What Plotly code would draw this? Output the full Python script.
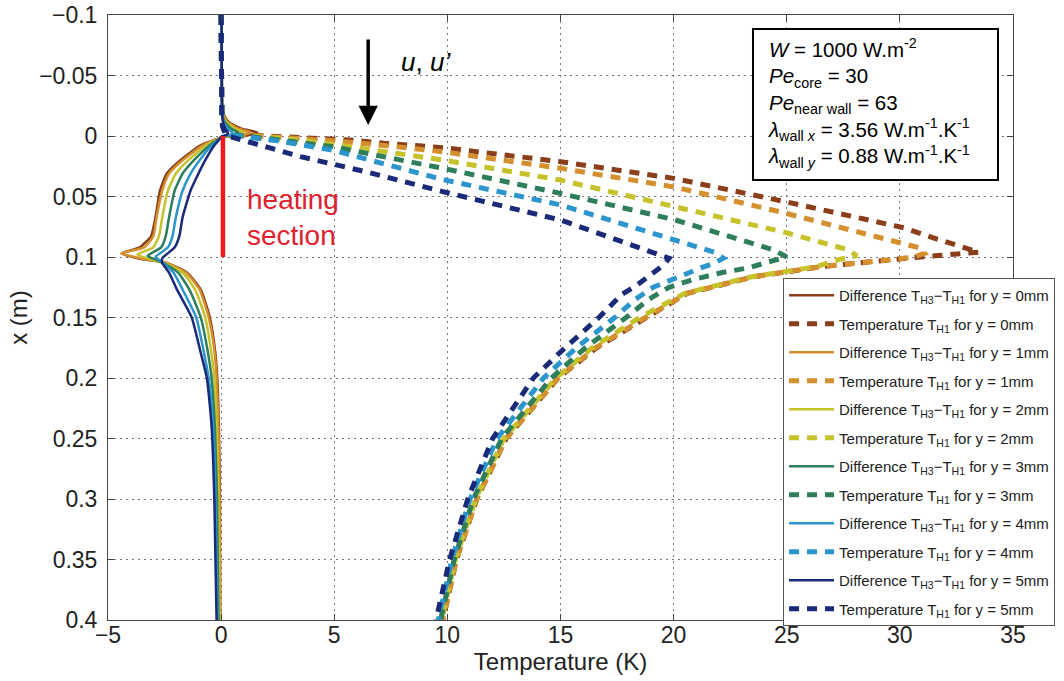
import plotly.graph_objects as go

# ---------------- data ----------------
Y_POSITIONS = ["0mm", "1mm", "2mm", "3mm", "4mm", "5mm"]
COLORS = ["#8B3E1A", "#D4902F", "#C6C22C", "#2E7D5B", "#2C96CC", "#1B2A78"]

# Difference T_H3 - T_H1 (solid)  x (m) / T (K)
X_DIFF_0 = [-0.1, -0.05, -0.02, -0.012, -0.006, -0.003, -0.001, 0.0005, 0.002, 0.0076, 0.02, 0.031, 0.045, 0.067, 0.083, 0.092, 0.097, 0.101, 0.105, 0.113, 0.127, 0.15, 0.177, 0.2, 0.24, 0.3, 0.4]
T_DIFF_0 = [0.02, 0.03, 0.08, 0.3, 0.9, 1.6, 1.3, 0.3, -0.1, -0.9, -1.8, -2.4, -2.7, -2.9, -3.1, -3.6, -4.4, -3.7, -2.4, -1.5, -0.9, -0.5, -0.27, -0.17, -0.1, -0.05, -0.04]
X_DIFF_1 = [-0.1, -0.05, -0.02, -0.012, -0.006, -0.003, -0.001, 0.0005, 0.002, 0.0076, 0.02, 0.031, 0.045, 0.067, 0.083, 0.092, 0.097, 0.101, 0.105, 0.113, 0.127, 0.15, 0.177, 0.2, 0.24, 0.3, 0.4]
T_DIFF_1 = [0.02, 0.03, 0.07, 0.25, 0.75, 1.3, 1.0, 0.2, -0.1, -0.8, -1.7, -2.3, -2.6, -2.85, -3.0, -3.4, -4.4, -3.6, -2.4, -1.55, -0.95, -0.55, -0.3, -0.2, -0.12, -0.07, -0.05]
X_DIFF_2 = [-0.1, -0.05, -0.02, -0.012, -0.006, -0.003, -0.001, 0.0005, 0.002, 0.0076, 0.02, 0.031, 0.045, 0.067, 0.083, 0.092, 0.098, 0.102, 0.106, 0.113, 0.127, 0.15, 0.177, 0.2, 0.24, 0.3, 0.4]
T_DIFF_2 = [0.02, 0.03, 0.06, 0.2, 0.6, 1.0, 0.8, 0.15, -0.08, -0.65, -1.45, -2.0, -2.35, -2.6, -2.75, -3.0, -3.7, -3.1, -2.4, -1.7, -1.15, -0.7, -0.45, -0.3, -0.2, -0.12, -0.08]
X_DIFF_3 = [-0.1, -0.05, -0.02, -0.012, -0.006, -0.003, -0.001, 0.0005, 0.002, 0.0076, 0.02, 0.031, 0.045, 0.067, 0.083, 0.092, 0.099, 0.102, 0.106, 0.113, 0.127, 0.15, 0.177, 0.2, 0.24, 0.3, 0.4]
T_DIFF_3 = [0.02, 0.03, 0.05, 0.15, 0.45, 0.75, 0.6, 0.1, -0.06, -0.5, -1.2, -1.7, -2.05, -2.3, -2.45, -2.65, -3.25, -2.9, -2.45, -1.9, -1.4, -0.9, -0.6, -0.42, -0.28, -0.18, -0.12]
X_DIFF_4 = [-0.1, -0.05, -0.02, -0.012, -0.006, -0.003, -0.001, 0.0005, 0.002, 0.0076, 0.02, 0.031, 0.045, 0.067, 0.083, 0.092, 0.1, 0.103, 0.106, 0.113, 0.127, 0.15, 0.177, 0.2, 0.24, 0.3, 0.4]
T_DIFF_4 = [0.02, 0.03, 0.04, 0.1, 0.3, 0.5, 0.4, 0.05, -0.05, -0.4, -0.95, -1.35, -1.7, -2.0, -2.15, -2.35, -2.9, -2.7, -2.5, -2.1, -1.7, -1.1, -0.78, -0.55, -0.35, -0.25, -0.16]
X_DIFF_5 = [-0.1, -0.05, -0.02, -0.012, -0.006, -0.003, -0.001, 0.0005, 0.002, 0.0076, 0.02, 0.031, 0.045, 0.067, 0.083, 0.092, 0.101, 0.105, 0.109, 0.113, 0.127, 0.15, 0.177, 0.2, 0.24, 0.3, 0.4]
T_DIFF_5 = [0.02, 0.03, 0.04, 0.08, 0.18, 0.3, 0.25, 0.0, -0.04, -0.3, -0.7, -1.0, -1.35, -1.7, -1.85, -2.05, -2.6, -2.6, -2.45, -2.3, -1.95, -1.3, -0.93, -0.63, -0.42, -0.3, -0.2]

# Temperature T_H1 (dashed)
X_TEMP_0 = [-0.1, -0.05, -0.02, -0.008, -0.003, -0.001, 0.0, 0.001, 0.0033, 0.006, 0.0096, 0.0212, 0.035, 0.0545, 0.076, 0.0855, 0.096, 0.1, 0.1025, 0.108, 0.1165, 0.13, 0.15, 0.175, 0.2, 0.25, 0.3, 0.35, 0.4]
T_TEMP_0 = [0.0, 0.0, 0.03, 0.1, 0.4, 1.0, 2.0, 3.5, 5.7, 7.2, 9.8, 15.0, 20.0, 25.0, 30.2, 31.7, 33.5, 30.9, 29.5, 26.5, 23.5, 20.6, 18.8, 16.6, 14.9, 12.6, 11.3, 10.4, 9.8]
X_TEMP_1 = [-0.1, -0.05, -0.02, -0.008, -0.003, -0.001, 0.0, 0.001, 0.004, 0.008, 0.013, 0.0267, 0.042, 0.0626, 0.0885, 0.0926, 0.097, 0.1, 0.1025, 0.108, 0.1165, 0.13, 0.15, 0.175, 0.2, 0.25, 0.3, 0.35, 0.4]
T_TEMP_1 = [0.0, 0.0, 0.03, 0.1, 0.35, 0.8, 1.7, 2.8, 5.0, 7.3, 9.8, 15.0, 20.0, 24.7, 30.0, 30.9, 31.1, 30.6, 29.5, 26.5, 23.5, 20.6, 18.75, 16.55, 14.9, 12.6, 11.3, 10.4, 9.8]
X_TEMP_2 = [-0.1, -0.05, -0.02, -0.008, -0.003, -0.001, 0.0, 0.002, 0.007, 0.0198, 0.0364, 0.058, 0.08, 0.094, 0.099, 0.102, 0.108, 0.1165, 0.13, 0.15, 0.175, 0.2, 0.25, 0.3, 0.35, 0.4]
T_TEMP_2 = [0.0, 0.0, 0.03, 0.1, 0.3, 0.6, 1.4, 2.8, 5.0, 9.8, 15.0, 20.0, 25.0, 27.7, 28.1, 27.3, 26.3, 23.4, 20.5, 18.5, 16.4, 14.8, 12.5, 11.25, 10.35, 9.75]
X_TEMP_3 = [-0.1, -0.05, -0.02, -0.008, -0.003, -0.001, 0.0, 0.003, 0.009, 0.0267, 0.0474, 0.069, 0.094, 0.1, 0.104, 0.109, 0.113, 0.119, 0.125, 0.135, 0.15, 0.175, 0.2, 0.25, 0.3, 0.35, 0.4]
T_TEMP_3 = [0.0, 0.0, 0.03, 0.08, 0.25, 0.5, 1.1, 2.5, 5.0, 9.8, 15.0, 20.0, 24.4, 25.0, 24.2, 23.3, 22.1, 20.8, 19.8, 18.9, 17.9, 16.1, 14.6, 12.4, 11.15, 10.3, 9.7]
X_TEMP_4 = [-0.1, -0.05, -0.02, -0.008, -0.003, -0.001, 0.0, 0.004, 0.012, 0.036, 0.057, 0.086, 0.096, 0.101, 0.105, 0.109, 0.117, 0.125, 0.135, 0.15, 0.175, 0.2, 0.25, 0.3, 0.35, 0.4]
T_TEMP_4 = [0.0, 0.0, 0.03, 0.07, 0.2, 0.35, 0.8, 2.5, 5.0, 9.8, 15.0, 20.0, 21.8, 22.2, 21.8, 21.2, 20.2, 19.1, 18.3, 17.4, 15.7, 14.25, 12.2, 11.0, 10.2, 9.6]
X_TEMP_5 = [-0.1, -0.05, -0.02, -0.008, -0.003, -0.001, 0.0, 0.006, 0.017, 0.03, 0.046, 0.0694, 0.085, 0.101, 0.106, 0.112, 0.123, 0.131, 0.15, 0.175, 0.2, 0.25, 0.3, 0.35, 0.4]
T_TEMP_5 = [0.0, 0.0, 0.03, 0.06, 0.15, 0.2, 0.3, 1.4, 3.5, 6.5, 9.8, 15.0, 17.4, 19.8, 19.6, 19.2, 18.4, 17.7, 16.7, 15.2, 13.8, 12.0, 10.9, 10.1, 9.5]

X_DIFF = [X_DIFF_0, X_DIFF_1, X_DIFF_2, X_DIFF_3, X_DIFF_4, X_DIFF_5]
T_DIFF = [T_DIFF_0, T_DIFF_1, T_DIFF_2, T_DIFF_3, T_DIFF_4, T_DIFF_5]
X_TEMP = [X_TEMP_0, X_TEMP_1, X_TEMP_2, X_TEMP_3, X_TEMP_4, X_TEMP_5]
T_TEMP = [T_TEMP_0, T_TEMP_1, T_TEMP_2, T_TEMP_3, T_TEMP_4, T_TEMP_5]

HEATING_START = 0.0
HEATING_END = 0.1

X_TICKS = [-5, 0, 5, 10, 15, 20, 25, 30, 35]
X_TICK_TEXT = ["\u22125", "0", "5", "10", "15", "20", "25", "30", "35"]
Y_TICKS = [-0.1, -0.05, 0, 0.05, 0.1, 0.15, 0.2, 0.25, 0.3, 0.35, 0.4]
Y_TICK_TEXT = ["\u22120.1", "\u22120.05", "0", "0.05", "0.1", "0.15", "0.2", "0.25", "0.3", "0.35", "0.4"]

FONT = "Liberation Sans, Arial, sans-serif"

fig = go.Figure()
for i, ypos in enumerate(Y_POSITIONS):
    fig.add_trace(go.Scatter(
        x=T_DIFF[i], y=X_DIFF[i], mode="lines",
        line=dict(color=COLORS[i], width=2.5, shape="spline", smoothing=0.5),
        name="Difference T<sub>H3</sub>\u2212T<sub>H1</sub> for y = " + ypos,
        legendgroup="d" + str(i),
    ))
    fig.add_trace(go.Scatter(
        x=T_TEMP[i], y=X_TEMP[i], mode="lines",
        line=dict(color=COLORS[i], width=5, dash="10px,8px"),
        name="Temperature T<sub>H1</sub> for y = " + ypos,
        legendgroup="t" + str(i),
    ))

# heating section red line
fig.add_shape(type="line", xref="x", yref="y", x0=0.08, x1=0.08,
              y0=HEATING_START, y1=HEATING_END,
              line=dict(color="#F01C1C", width=4.5))

fig.add_annotation(x=1.05, y=0.067, xref="x", yref="y", xanchor="left", yanchor="middle",
                   text="heating<br>section", showarrow=False, align="left",
                   font=dict(family=FONT, size=28, color="#E0222E"))

# flow arrow
fig.add_annotation(x=6.5, y=-0.009, ax=6.5, ay=-0.081, xref="x", yref="y",
                   axref="x", ayref="y", text="", showarrow=True,
                   arrowhead=2, arrowsize=1.1, arrowwidth=3.5, arrowcolor="black")
fig.add_annotation(x=9.05, y=-0.0612, xref="x", yref="y", text="<i>u</i>, <i>u\u2019</i>",
                   showarrow=False, font=dict(family=FONT, size=26, color="black"))

# info box
fig.add_shape(type="rect", xref="paper", yref="paper", x0=0.7127, x1=0.9834,
              y0=0.7273, y1=0.9769, line=dict(color="black", width=2),
              fillcolor="white", layer="above")
info = ("<i>W</i> = 1000 W.m<sup>-2</sup><br>"
        "<i>Pe</i><sub>core</sub> = 30<br>"
        "<i>Pe</i><sub>near wall</sub> = 63<br>"
        "<i>\u03bb</i><sub>wall <i>x</i></sub> = 3.56 W.m<sup>-1</sup>.K<sup>-1</sup><br>"
        "<i>\u03bb</i><sub>wall <i>y</i></sub> = 0.88 W.m<sup>-1</sup>.K<sup>-1</sup>")
fig.add_annotation(x=0.727, y=0.97, xref="paper", yref="paper", xanchor="left", yanchor="top",
                   text=info, showarrow=False, align="left",
                   font=dict(family=FONT, size=20.5, color="black"))

axis_common = dict(
    showgrid=True, gridcolor="#777777", gridwidth=1, griddash="2px,4px",
    zeroline=False, showline=True, linecolor="#444444", linewidth=1, mirror="ticks",
    ticks="inside", ticklen=6, tickcolor="#444444", ticklabeloverflow="allow",
    tickfont=dict(family=FONT, size=23, color="#222222"),
)

fig.update_xaxes(range=[-5, 35], tickvals=X_TICKS, ticktext=X_TICK_TEXT,
                 title=dict(text="Temperature (K)", font=dict(family=FONT, size=24, color="#222222"), standoff=6),
                 ticklabelstandoff=-6, **axis_common)
fig.update_yaxes(range=[0.4, -0.10001], tickvals=Y_TICKS, ticktext=Y_TICK_TEXT,
                 title=dict(text="x (m)", font=dict(family=FONT, size=24, color="#222222"), standoff=4),
                 ticklabelstandoff=5, **axis_common)

fig.update_layout(
    width=1064, height=681,
    margin=dict(l=108, r=51, t=15, b=61, autoexpand=False),
    paper_bgcolor="white", plot_bgcolor="white",
    font=dict(family=FONT, color="#222222"),
    legend=dict(x=0.7459, y=0.5653, xanchor="left", yanchor="top",
                bgcolor="white", bordercolor="#555555", borderwidth=1,
                font=dict(family=FONT, size=15, color="#222222"),
                itemwidth=45, tracegroupgap=6, traceorder="grouped"),
)

# remove the page's default body margin so the figure fills the window exactly
fig.write_html("out.html", config={"displayModeBar": False},
               post_script="document.body.style.margin='0px';")
